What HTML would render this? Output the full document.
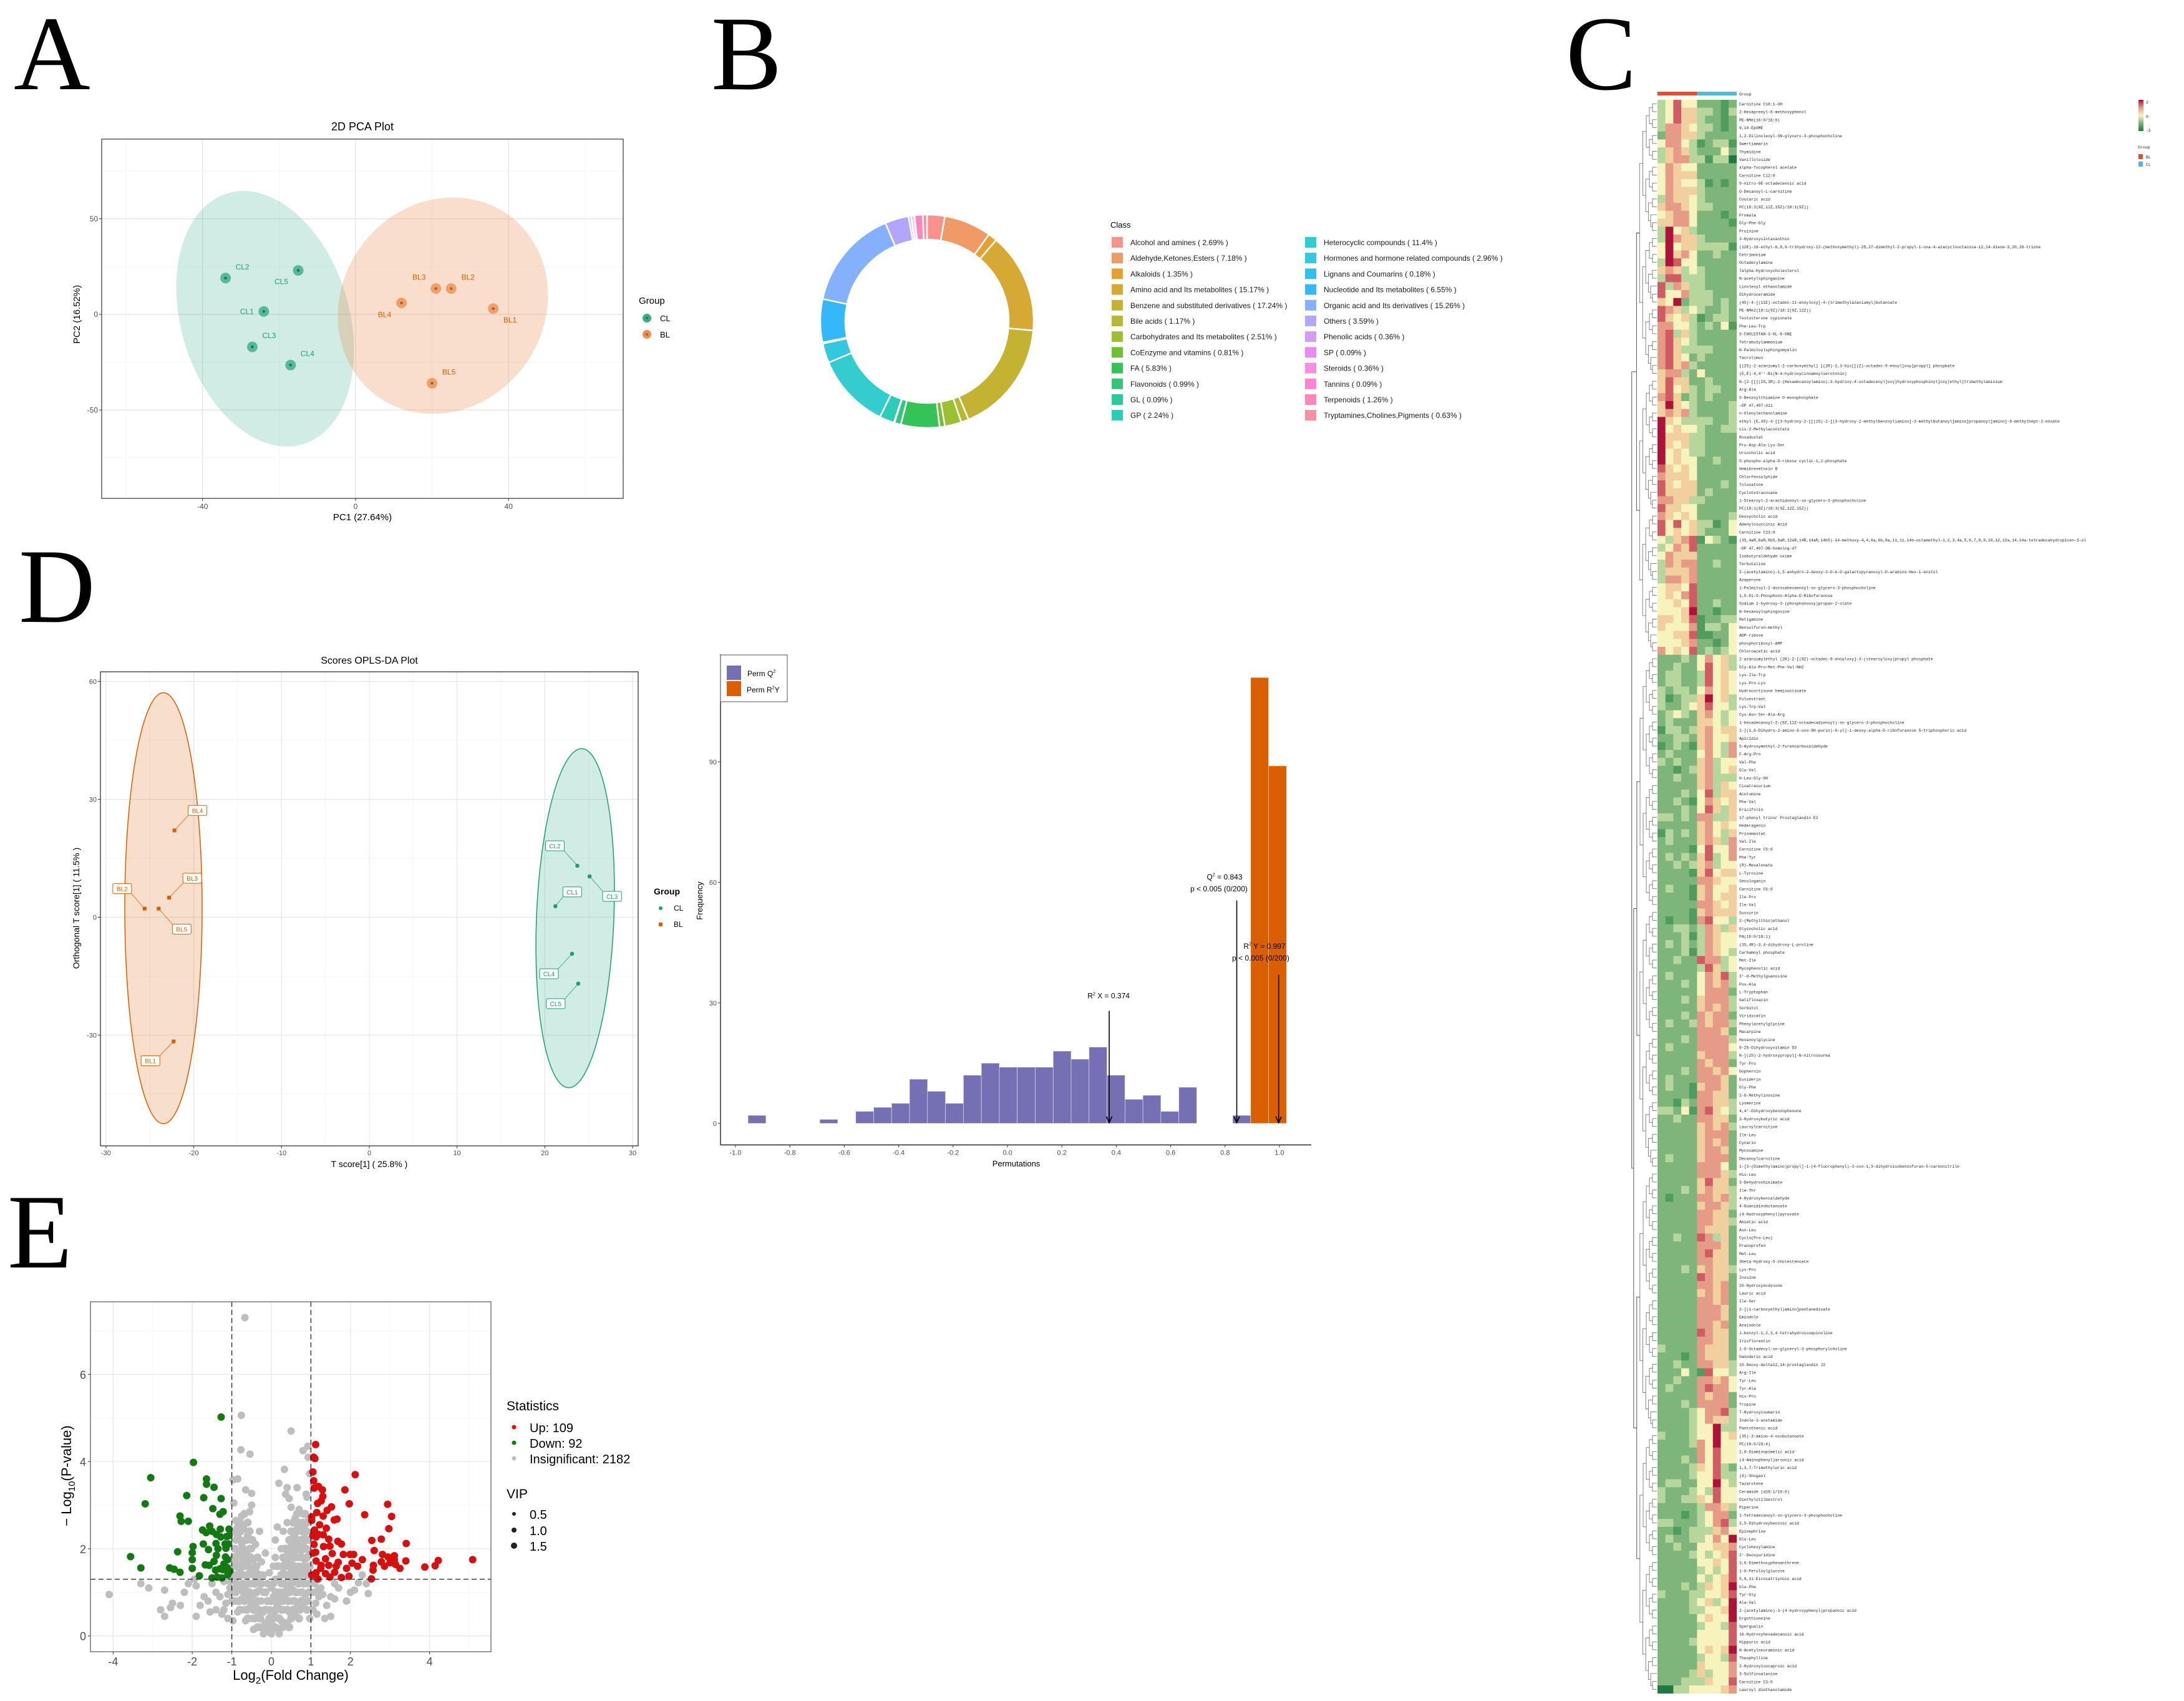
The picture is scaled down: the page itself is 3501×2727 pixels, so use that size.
<!DOCTYPE html>
<html><head><meta charset="utf-8"><title>Metabolomics figure</title>
<style>
html,body{margin:0;padding:0;background:#fff;}
svg{display:block;font-family:"Liberation Sans",sans-serif;}
</style></head>
<body>
<svg id="fig" xmlns="http://www.w3.org/2000/svg" width="3501" height="2727" viewBox="0 0 3501 2727">
<rect x="0" y="0" width="3501" height="2727" fill="#fff"/>
<g font-family="Liberation Serif, serif" font-size="170" fill="#000">
<text x="22" y="143">A</text>
<text x="1140" y="143">B</text>
<text x="2510" y="143">C</text>
<text x="30" y="997">D</text>
<text x="12" y="2032">E</text>
</g>
<g id="pA"></g>
<g id="pB"></g>
<g id="pC"></g>
<g id="pD"></g>
<g id="pP"></g>
<g id="pE"></g>
</svg>
<script>
// ================= DATA =================
// PCA
const pcaSamples = ['CL1','CL2','CL3','CL4','CL5','BL1','BL2','BL3','BL4','BL5'];
const pcaPC1 = [-24, -34, -27, -17, -15, 36, 25, 21, 12, 20];
const pcaPC2 = [1.5, 19, -17, -26.5, 23, 3, 13.5, 13.5, 6, -36];
const pcaXTicks = [-40, 0, 40];
const pcaYTicks = [-50, 0, 50];
// Class donut
const classNames = ['Alcohol and amines','Aldehyde,Ketones,Esters','Alkaloids','Amino acid and Its metabolites','Benzene and substituted derivatives','Bile acids','Carbohydrates and Its metabolites','CoEnzyme and vitamins','FA','Flavonoids','GL','GP','Heterocyclic compounds','Hormones and hormone related compounds','Lignans and Coumarins','Nucleotide and Its metabolites','Organic acid and Its derivatives','Others','Phenolic acids','SP','Steroids','Tannins','Terpenoids','Tryptamines,Cholines,Pigments'];
const classPct = [2.69,7.18,1.35,15.17,17.24,1.17,2.51,0.81,5.83,0.99,0.09,2.24,11.4,2.96,0.18,6.55,15.26,3.59,0.36,0.09,0.36,0.09,1.26,0.63];
const classColors = ['#f8928a','#f09a66','#e5a12f','#d6a834','#c4b232','#b5b934','#9cbf34','#6fc22f','#35c358','#30c77d','#2ec99a','#2ccdb8','#33cccf','#33c8e0','#2fc0f0','#35b8fa','#84b0fc','#b3a6fa','#d59cf7','#ea8cee','#f88de1','#fc84d2','#fb86bd','#f890a4'];
// OPLS-DA
const oplsSamples = ['BL1','BL2','BL3','BL4','BL5','CL1','CL2','CL3','CL4','CL5'];
const oplsT = [-22.3,-25.6,-22.8,-22.2,-24.0,21.2,23.7,25.1,23.1,23.8];
const oplsO = [-31.6,2.2,5.0,22.1,2.2,2.8,13.1,10.4,-9.3,-16.9];
const oplsXTicks = [-30,-20,-10,0,10,20,30];
const oplsYTicks = [-30,0,30,60];
// Permutation histogram
const permBinWidth = 0.066;
const q2BinLeft = [-0.954,-0.690,-0.558,-0.492,-0.426,-0.360,-0.294,-0.228,-0.162,-0.096,-0.030,0.036,0.102,0.168,0.234,0.300,0.366,0.432,0.498,0.564,0.630,0.828];
const q2Counts = [2,1,3,4,5,11,8,5,12,15,14,14,14,18,16,19,12,6,7,3,9,2];
const r2yBinLeft = [0.894,0.960];
const r2yCounts = [111,89];
const permXTicks = [-1.0,-0.8,-0.6,-0.4,-0.2,0.0,0.2,0.4,0.6,0.8,1.0];
const permYTicks = [0,30,60,90];
const statR2X = 0.374, statQ2 = 0.843, statR2Y = 0.997;
const arrowTopR2X = 28, arrowTopQ2 = 55.5, arrowTopR2Y = 37;
// Volcano
const volcXTicks = [-4,-2,-1,0,1,2,4];
const volcYTicks = [0,2,4,6];
const downPts = [[-1.27,5.02],[-1.97,3.98],[-3.05,3.63],[-3.19,3.03],[-2.14,3.22],[-1.64,3.6],[-1.64,3.48],[-1.45,3.41],[-1.71,3.17],[-1.27,3.15],[-1.48,2.92],[-1.22,2.85],[-1.3,2.79],[-2.31,2.75],[-2.28,2.63],[-2.1,2.63],[-1.56,2.52],[-1.74,2.43],[-1.65,2.37],[-1.5,2.4],[-1.39,2.33],[-1.29,2.45],[-1.07,2.45],[-1.13,2.28],[-1.28,2.27],[-1.07,2.3],[-1.98,2.05],[-1.72,2.11],[-1.4,2.12],[-1.17,2.11],[-1.08,2.11],[-1.59,1.98],[-2.0,1.91],[-2.37,1.93],[-1.15,2.01],[-3.56,1.82],[-2.0,1.75],[-1.45,1.71],[-1.16,1.81],[-1.1,1.75],[-1.39,1.85],[-3.3,1.56],[-2.57,1.56],[-2.46,1.53],[-2.31,1.46],[-2.0,1.55],[-1.67,1.63],[-1.57,1.62],[-1.41,1.51],[-1.3,1.54],[-1.22,1.52],[-1.12,1.57],[-1.05,1.49],[-1.82,1.38],[-1.37,1.35],[-1.25,1.33],[-1.5,1.33],[-1.2,1.65],[-1.35,2.0],[-1.1,1.4]];
const upPts = [[1.12,4.39],[1.07,4.1],[1.1,4.07],[1.05,3.76],[2.12,3.7],[1.07,3.56],[1.19,3.43],[1.08,3.39],[1.29,3.35],[1.86,3.35],[1.3,3.2],[1.26,3.1],[1.17,3.04],[1.97,3.03],[2.94,3.02],[1.52,2.96],[1.41,2.88],[1.15,2.83],[1.02,2.73],[2.36,2.78],[3.04,2.74],[1.31,2.75],[1.66,2.68],[1.59,2.66],[1.02,2.65],[1.39,2.47],[2.97,2.46],[1.09,2.43],[1.19,2.33],[1.31,2.32],[1.13,2.27],[1.45,2.22],[2.78,2.22],[2.54,2.19],[1.68,2.17],[1.77,2.11],[3.41,2.12],[1.08,2.1],[1.32,2.05],[1.48,2.06],[2.6,1.96],[1.12,1.92],[1.54,1.89],[1.82,1.87],[1.99,1.87],[2.08,1.87],[2.81,1.87],[3.11,1.84],[2.95,1.81],[2.3,1.75],[1.37,1.77],[1.13,1.72],[1.69,1.69],[2.04,1.67],[2.78,1.7],[3.0,1.68],[3.11,1.75],[3.4,1.72],[4.22,1.73],[5.09,1.75],[1.26,1.62],[1.64,1.6],[2.18,1.6],[2.58,1.62],[2.86,1.6],[3.14,1.64],[3.88,1.58],[4.14,1.61],[3.25,1.55],[1.13,1.45],[1.37,1.43],[1.6,1.46],[2.57,1.51],[1.77,1.34],[1.96,1.37],[2.53,1.31],[1.17,1.31],[1.02,1.4],[1.48,1.35],[1.25,1.55],[1.05,1.9],[1.22,2.55],[1.45,1.62],[1.9,1.55],[1.05,2.3]];
const greyPts = [[-0.67,7.3],[-0.76,5.06],[0.5,4.7],[-0.77,4.27],[-0.54,4.17],[0.92,4.35],[0.8,4.25],[0.93,4.1],[0.33,3.82],[0.97,3.72],[-0.85,3.6],[-0.97,3.58],[0.19,3.5],[0.4,3.4],[0.65,3.4],[-0.65,3.35],[-0.5,3.27],[0.36,3.25],[0.88,3.25],[0.45,3.15],[0.9,3.18],[-0.95,3.05],[-0.5,3.0],[0.5,2.95],[0.7,2.9],[-0.55,2.85],[0.8,2.8],[-0.75,2.75],[0.6,2.7],[-0.9,2.65],[0.4,2.6],[0.15,2.5],[-0.7,2.55],[-0.3,2.4],[0.3,2.4],[0.9,2.4],[-0.85,2.3],[-0.6,2.3],[0.1,2.2],[0.55,2.25],[0.8,2.1],[-0.4,2.1],[-0.15,1.9],[0.25,2.0],[0.6,1.95],[-0.8,1.95],[-0.6,1.85],[0.45,1.8],[0.95,1.85],[-0.9,1.75],[-0.25,1.7],[0.05,1.6],[0.3,1.6],[0.7,1.6],[-0.5,1.55],[-0.8,1.5],[0.5,1.45],[0.85,1.4],[-0.2,1.4],[0.1,1.3],
[0.7,2.6],[0.75,2.5],[0.65,2.45],[0.85,2.55],[0.95,2.7],[0.6,2.35],[0.7,2.2],[0.85,2.25],[0.5,2.1],[0.65,2.05],[0.75,1.95],[0.9,2.0],[0.4,1.95],[0.55,1.85],[0.7,1.8],[0.85,1.75],[0.35,1.7],[0.5,1.65],[0.62,1.55],[0.78,1.5],[0.92,1.55],[0.3,1.45],[0.42,1.35],[0.6,1.3],[0.75,1.25],[0.9,1.2],[0.25,1.2],[0.4,1.1],[0.55,1.05],[0.7,1.0],[0.85,0.95],[0.2,0.95],[0.35,0.85],[0.5,0.8],[0.65,0.75],[0.8,0.7],[0.15,0.7],[0.3,0.6],[0.45,0.55],[0.6,0.5],[0.1,0.45],[0.25,0.35],[0.4,0.3],[0.05,0.2],[0.15,0.15],[0.0,0.05],[0.2,0.05],
[-0.7,2.45],[-0.85,2.5],[-0.6,2.2],[-0.75,2.1],[-0.9,2.2],[-0.5,2.0],[-0.65,1.95],[-0.85,1.85],[-0.45,1.75],[-0.6,1.7],[-0.75,1.65],[-0.95,1.6],[-0.4,1.5],[-0.55,1.45],[-0.7,1.4],[-0.9,1.35],[-0.35,1.3],[-0.5,1.2],[-0.65,1.15],[-0.8,1.1],[-0.95,1.05],[-0.3,1.05],[-0.45,0.95],[-0.6,0.9],[-0.75,0.85],[-0.9,0.8],[-0.25,0.8],[-0.4,0.7],[-0.55,0.65],[-0.7,0.6],[-0.85,0.55],[-0.2,0.55],[-0.35,0.45],[-0.5,0.4],[-0.65,0.35],[-0.15,0.3],[-0.3,0.2],[-0.45,0.15],[-0.1,0.1],[-0.2,0.05],
[0.0,0.5],[0.1,0.9],[-0.1,0.8],[0.0,1.1],[0.15,1.3],[-0.1,1.2],[0.0,0.3],[-0.05,0.6],[0.05,0.9],[0.2,1.6],[0.1,1.8],[-0.05,1.45],[0.3,1.0],[-0.3,0.6],[0.35,0.3],[-0.2,1.0],
[-4.1,0.95],[-3.3,1.2],[-3.1,1.1],[-2.7,1.05],[-2.8,0.6],[-2.7,0.45],[-2.5,0.75],[-2.55,0.65],[-2.3,0.7],[-2.2,1.0],[-2.1,1.2],[-1.95,1.3],[-1.9,1.15],[-1.9,0.45],[-1.7,0.9],[-1.6,0.8],[-1.5,1.2],[-1.4,1.0],[-1.4,0.6],[-1.3,0.9],[-1.2,1.25],[-1.1,0.4],[-1.0,0.8],[-1.55,0.55],[-1.25,0.5],[-1.8,0.7],[-1.15,0.75],[-1.05,1.1],
[1.1,1.2],[1.2,0.9],[1.3,0.95],[1.4,0.7],[1.5,0.9],[1.5,0.45],[1.6,0.85],[1.7,1.1],[1.9,0.8],[2.0,1.0],[2.1,1.05],[2.2,1.22],[2.45,0.97],[2.3,1.4],[2.4,1.2],[1.2,1.3],[1.05,0.6],[1.15,0.5],[1.35,0.4],[1.25,1.1],[1.05,1.0],[1.6,1.2],
[-1.05,1.25],[-1.1,0.95],[-1.2,0.6],[1.08,1.28],[1.12,0.75],[1.18,1.05],[-0.97,0.35],[0.97,0.4]];
// dense core of insignificant metabolites, listed per -log10(p) level
const greyCoreY = [0.2,0.4,0.6,0.8,1.0,1.2,1.4,1.6,1.8,2.0,2.2,2.4,2.6,2.8];
const greyCoreX = [
 [-0.35,-0.25,-0.12,0.1,0.28,0.45],
 [-0.6,-0.42,-0.28,-0.05,0.05,0.2,0.5,0.7],
 [-0.8,-0.62,-0.45,-0.15,0.1,0.25,0.4,0.55,0.72,0.9],
 [-0.95,-0.82,-0.68,-0.52,-0.35,-0.1,0.0,0.15,0.28,0.42,0.58,0.75,0.92],
 [-0.9,-0.7,-0.55,-0.38,-0.15,0.12,0.22,0.45,0.62,0.78,0.95],
 [-0.88,-0.72,-0.58,-0.42,-0.25,0.05,0.32,0.5,0.68,0.82,0.97],
 [-0.92,-0.78,-0.6,-0.45,-0.3,0.25,0.38,0.55,0.7,0.92],
 [-0.88,-0.68,-0.55,-0.38,0.15,0.42,0.58,0.82,0.97],
 [-0.95,-0.72,-0.52,-0.35,0.3,0.6,0.78,0.9],
 [-0.92,-0.72,-0.55,0.35,0.45,0.72,0.85],
 [-0.8,-0.65,-0.48,0.45,0.62,0.75,0.95],
 [-0.95,-0.78,-0.55,0.5,0.65,0.78],
 [-0.8,-0.6,0.55,0.8,0.9],
 [-0.68,0.65,0.85]];
// Heatmap (0 = -2 dark green ... 4 = 0 ... 8 = +2 dark red), columns BL1-5, CL1-5
const heatCols = ['BL1','BL2','BL3','BL4','BL5','CL1','CL2','CL3','CL4','CL5'];
const heatRows = ["3474422212","3475533213","3475532212","3665433212","2665532222","4664312331","3565322242","3566331330","4654422222","4655522222","4654431212","4655532222","3655432222","5665433222","4566422212","5566422221","3845322222","3865532222","4845533331","4856422322","3874422222","5653432222","3773332222","7365332222","7446333222","5482333232","7653432232","7545312332","6644323241","6735322222","6754322222","6753333222","6754232222","6756322222","5663242222","5755223222","5745323322","6752323222","5854322223","5656322223","8543333223","8454432233","8555332222","8545332222","8454332222","8454422322","7545422222","6555422222","7545522232","7555523222","6655332222","7554422222","6545422223","7474533124","7454532224","4356714321","3465722222","4655522222","3656622322","3555622222","3665622222","4554722222","4546722222","4454722322","4445822122","5545712233","5444613324","4455711224","4445622124","6454723234",
"2223246453","2232247453","2332237454","2332237454","3233246454","3123358453","3223457443","2343256434","2322255434","1332356455","2233256445","1232156436","2322246436","3232256344","2212356345","2232256333","2222256354","2223247355","2232146545","2223247535","3323266335","2222256454","1323256435","2322256536","2222147446","2323257346","2232356344","2222157455","2222266544","2322156445","2222156455","2222266545","2222156555","2122167443","2233236535","2223136544","2323236544","2223136543","2232276634","2222237534","2322246573","2223246563","2222246662","2223256663","2222256563","2223265662","2322365663","2222266652","2223266663","2322266664","2222256663","2222265662","2223266564","2322266652","2322156652","2222166552","2213266553","3324167543","2232266552","2222256563","2222256662","2222256562","2222256652","2322256662","2222266642","2222266653","2222257552","2223256553","2122266563","2222256653","2222266552","2222266553","2222265552","2232276352","2222266652","2222267552","2222266552","2223256553","2222276552","2222266562","2222256562","2222266562","2222266652","2222266652","2222266562","2222276552","2222266552","3222265552","2221265552","2232266553","2224217443","2232266564","2322267664","2222265662","2223266662","2222346673","2222346553","2222344833","3222344845","2222364844","2222264744","2223264744","2222354732","2222344733","2332244843","3222343744","3223354744","2222236653","2221234662","3322234673","2212333564","2322334648","2232244556","2222343457","2222244547","2222234347","2222243457","2223235458","3222334457","2222345348","2222334458","2222245448","2222234437","2222244447","2222344447","2222245458","2222234437","2222254446","2222353446","2223335447","0033444456"];
const heatLabels = ["Carnitine C18:1-OH","2-Hexaprenyl-6-methoxyphenol","PE-NMe(16:0/16:0)","9,10-EpOME","1,2-Dilinoleoyl-SN-glycero-3-phosphocholine","Swertiamarin","Thymidine","Vanilloloside","alpha-Tocopherol acetate","Carnitine C12:0","9-nitro-9E-octadecenoic acid","O-Decanoyl-L-carnitine","Coutaric acid","PC(18:3(9Z,12Z,15Z)/18:1(9Z))","Promala","Gly-Phe-Gly","Pruinine","3-Hydroxysintaxanthin","(12E)-16-ethyl-6,8,9-trihydroxy-12-(methoxymethyl)-25,27-dimethyl-2-propyl-1-oxa-4-azacyclooctacosa-12,14-diene-3,20,28-trione","Cetrimonium","Octadecylamine","7alpha-Hydroxycholesterol","N-acetylsphinganine","Linoleoyl ethanolamide","Dihydroceramide","(4S)-4-[(11E)-octadec-11-enoyloxy]-4-(trimethylazaniumyl)butanoate","PE-NMe2(18:1(9Z)/18:2(9Z,12Z))","Testosterone cypionate","Phe-Leu-Trp","5-CHOLESTAN-3-OL-6-ONE","Tetrabutylammonium","N-Palmitoylsphingomyelin","Tacrolimus","[(2S)-2-azaniumyl-2-carboxyethyl] [(2R)-2,3-bis[[(Z)-octadec-9-enoyl]oxy]propyl] phosphate","(E,E)-4,4''-Bi(N-4-hydroxycinnamoylserotonin)","N-[2-[[[(2S,3R)-2-(Hexadecanoylamino)-3-hydroxy-4-octadecenyl]oxy]hydroxyphosphinyl]oxy]ethyl]trimethylaminium","Arg-Ala","S-Benzoylthiamine O-monophosphate","-DP 47,497-d11","n-Oleoylethanolamine","ethyl (E,4S)-4-[[3-hydroxy-2-[[(2S)-2-[(3-hydroxy-2-methylbenzoyl)amino]-3-methylbutanoyl]amino]propanoyl]amino]-6-methylhept-2-enoate","cis-2-Methylaconitate","Roxadustat",
"Pro-Asp-Ala-Lys-Ser","Ursocholic acid","5-phospho-alpha-D-ribose cyclic-1,2-phosphate","Hemibrevetoxin B","Chlorfensulphide","Toloxatone","Cyclotetracosane","1-Stearoyl-2-arachidonoyl-sn-glycero-3-phosphocholine","PC(18:1(9Z)/18:3(9Z,12Z,15Z))","Deoxycholic acid","Adenylosuccinic Acid","Carnitine C13:0","(3S,4aR,6aR,6bS,8aR,12aR,14R,14aR,14bS)-14-methoxy-4,4,6a,6b,8a,11,11,14b-octamethyl-1,2,3,4a,5,6,7,8,9,10,12,12a,14,14a-tetradecahydropicen-3-ol","-DP 47,497-DB-homolog-d7","Isobutyraldehyde oxime","Terbutaline","2-(acetylamino)-1,5-anhydro-2-deoxy-3-O-b-D-galactopyranosyl-D-arabino-Hex-1-enitol","Azaperone","1-Palmitoyl-2-docosahexaenoyl-sn-glycero-3-phosphocholine","1,5-Di-O-Phosphono-Alpha-D-Ribofuranose","Sodium 1-hydroxy-3-(phosphonooxy)propan-2-olate","N-hexanoylsphingosine","Retigabine","Bensulfuron-methyl","ADP-ribose","phosphoribosyl-AMP","Chloroacetic acid","2-azaniumylethyl (2R)-2-[(9Z)-octadec-9-enoyloxy]-3-(stearoyloxy)propyl phosphate","Gly-Ala-Pro-Met-Phe-Val-NH2","Lys-Ile-Trp","Lys-Pro-Lys","Hydrocortisone hemisuccinate","Fulvestrant","Lys-Trp-Val","Cys-Asn-Ser-Ala-Arg","1-hexadecanoyl-2-(9Z,12Z-octadecadienoyl)-sn-glycero-3-phosphocholine","1-[(1,6-Dihydro-2-amino-6-oxo-9H-purin)-9-yl]-1-deoxy-alpha-D-ribofuranose 5-triphosphoric acid","Apicidin","5-Hydroxymethyl-2-furancarboxaldehyde",
"F-Arg-Pro","Val-Phe","Glu-Val","H-Leu-Gly-OH","Cisatracurium","Acutumine","Phe-Val","Ericifolin","17-phenyl trinor Prostaglandin E2","Hederagenin","Prinomastat","Val-Ile","Carnitine C5:0","Phe-Tyr","(R)-Mevalonate","L-Tyrosine","Secologanin","Carnitine C6:0","Ile-Pro","Ile-Val","Sussurin","2-(Methylthio)ethanol","Glycocholic acid","PA(16:0/18:1)","(3S,4R)-3,4-dihydroxy-L-proline","Carbamoyl phosphate","Met-Ile","Mycophenolic acid","3'-O-Methylguanosine","Pov-Ala","L-Tryptophan","Gatifloxacin","Sorbitol","Viridicatin","Phenylacetylglycine","Macarpine","Hexanoylglycine","6-25-Dihydroxyvitamin D3","N-[(2S)-2-hydroxypropyl]-N-nitrosourea","Tyr-Pro","Gophernin","Eusiderin","Gly-Phe","2-O-Methylinosine","Lysmerine","4,4'-Dihydroxybenzophenone","3-Hydroxybutyric acid","Lauroylcarnitine","Ile-Leu","Cynarin","Mycosamine","Decanoylcarnitine","1-[3-(Dimethylamino)propyl]-1-(4-fluorophenyl)-3-oxo-1,3-dihydroisobenzofuran-5-carbonitrile","His-Leu","3-Dehydroshikimate","Ile-Thr","4-Hydroxybenzaldehyde","4-Guanidinobutanoate","(4-Hydroxyphenyl)pyruvate","Abietic acid","Asn-Leu","Cyclo(Pro-Leu)","Pranoprofen","Met-Leu","3beta-Hydroxy-5-cholestenoate","Lys-Pro","Inosine","20-Hydroxyecdysone","Lauric acid","Ile-Ser","2-[(1-carboxyethyl)amino]pentanedioate","Emindole","Azaindole","1-benzyl-1,2,3,4-tetrahydroisoquinoline","Irisflorentin","1-O-Octadecyl-sn-glyceryl-3-phosphorylcholine","Ganoderic acid","15-Deoxy-delta12,14-prostaglandin J2","Arg-Ile","Tyr-Leu","Tyr-Ala","His-Pro","Tropine","7-Hydroxycoumarin","Indole-3-acetamide","Pantothenic acid","(3S)-3-amino-4-oxobutanoate","PC(18:0/20:4)","2,6-Diaminopimelic acid","(4-Aminophenyl)arsonic acid","1,3,7-Trimethyluric acid","(8)-Shogaol","Tazarotene","Ceramide (d18:1/16:0)","Diethylstilbestrol","Piperine","1-Tetradecanoyl-sn-glycero-3-phosphocholine","2,5-Dihydroxybenzoic acid","Epinephrine","Glu-Leu","Cyclohexylamine","2'-Deoxyuridine","3,6-Dimethoxyphenanthrene","1-O-Feruloylglucose","5,8,11-Eicosatriynoic acid","Glu-Phe","Tyr-Gly","Ala-Val","2-(acetylamino)-3-(4-hydroxyphenyl)propanoic acid","Ergothioneine","Spergualin","16-Hydroxyhexadecanoic acid","Hippuric acid","N-Acetylneuraminic acid","Theophylline","2-Hydroxyisocaproic acid","3-Sulfinoalanine","Carnitine C3:0","Lauroyl diethanolamide","1,1-Dimethylbiguanide"];

// ================= HELPERS =================
const NS = 'http://www.w3.org/2000/svg';
function mk(tag, attrs, parent) {
  const e = document.createElementNS(NS, tag);
  for (const k in attrs) e.setAttribute(k, attrs[k]);
  parent.appendChild(e);
  return e;
}
function tx(str, attrs, parent) {
  const e = mk('text', attrs, parent);
  e.textContent = str;
  return e;
}
function sup(parentText, base, s, after, fs) {
  const a = document.createElementNS(NS, 'tspan'); a.textContent = base; parentText.appendChild(a);
  const b = document.createElementNS(NS, 'tspan'); b.textContent = s; b.setAttribute('dy', -fs*0.45); b.setAttribute('font-size', fs*0.6); parentText.appendChild(b);
  const c = document.createElementNS(NS, 'tspan'); c.textContent = after; c.setAttribute('dy', fs*0.45); parentText.appendChild(c);
}
let el;

// ================= PANEL A: PCA =================
(function(){
  const g = document.getElementById('pA');
  const L=163,R=999,T=223,B=799;
  const xA = v => 570 + v*6.13;
  const yA = v => 504 - v*3.065;
  el = mk('rect',{x:L,y:T,width:R-L,height:B-T,fill:'#fff'},g);
  
  
  [-60,-20,20,60].forEach(v=>{ el = mk('line',{x1:xA(v),x2:xA(v),y1:T,y2:B,stroke:'#f2f2f2','stroke-width':0.8},g);
    
     });
  [-75,-25,25,75].forEach(v=>{ el = mk('line',{x1:L,x2:R,y1:yA(v),y2:yA(v),stroke:'#f2f2f2','stroke-width':0.8},g);
    
     });
  pcaXTicks.forEach(v=>{ el = mk('line',{x1:xA(v),x2:xA(v),y1:T,y2:B,stroke:'#e6e6e6','stroke-width':1.4},g);
    
    
    el = mk('line',{x1:xA(v),x2:xA(v),y1:B,y2:B+4,stroke:'#333'},g);
    
    
    el = tx(String(v),{x:xA(v),y:B+17,'font-size':12,'text-anchor':'middle',fill:'#4d4d4d'},g);
    
     });
  pcaYTicks.forEach(v=>{ el = mk('line',{x1:L,x2:R,y1:yA(v),y2:yA(v),stroke:'#e6e6e6','stroke-width':1.4},g);
    
    
    el = mk('line',{x1:L-4,x2:L,y1:yA(v),y2:yA(v),stroke:'#333'},g);
    
    
    el = tx(String(v),{x:L-6,y:yA(v)+4,'font-size':12,'text-anchor':'end',fill:'#4d4d4d'},g);
    
     });
  el = mk('ellipse',{cx:425,cy:511,rx:134.7,ry:210,transform:'rotate(-16.7 425 511)',fill:'#1b9e77','fill-opacity':0.2},g);
  
  
  el = mk('ellipse',{cx:710,cy:490,rx:162.2,ry:179.4,transform:'rotate(36.5 710 490)',fill:'#e8884a','fill-opacity':0.28},g);
  
  
  const ldx = {CL1:-27,CL2:27,CL3:27,CL4:27,CL5:-27,BL1:27,BL2:27,BL3:-27,BL4:-27,BL5:27};
  const ldy = {CL1:0,CL2:-18,CL3:-18,CL4:-18,CL5:18,BL1:18,BL2:-18,BL3:-18,BL4:19,BL5:-18};
  pcaSamples.forEach((s,i)=>{
    const cl = s.startsWith('CL');
    const c1 = cl ? '#3aad87' : '#eb9155';
    const c2 = cl ? '#0e7f5c' : '#c8560c';
    const px = xA(pcaPC1[i]), py = yA(pcaPC2[i]);
    el = mk('circle',{cx:px,cy:py,r:8.5,fill:c1,'fill-opacity':0.8},g);
    
    
    el = mk('circle',{cx:px,cy:py,r:2.3,fill:c2},g);
    
    
    el = tx(s,{x:px+ldx[s],y:py+ldy[s]+4,'font-size':12,'text-anchor':'middle',fill:cl?'#1b9e77':'#d95f02'},g);
    
    
  });
  el = mk('rect',{x:L,y:T,width:R-L,height:B-T,fill:'none',stroke:'#333','stroke-width':1.2},g);
  
  
  el = tx('2D PCA Plot',{x:581,y:209,'font-size':18,'text-anchor':'middle',fill:'#000'},g);
  
  
  el = tx('PC1 (27.64%)',{x:581,y:834,'font-size':15,'text-anchor':'middle',fill:'#000'},g);
  
  
  el = tx('PC2 (16.52%)',{x:0,y:0,'font-size':15,'text-anchor':'middle',fill:'#000',transform:'translate(128 504) rotate(-90)'},g);
  
  
  el = tx('Group',{x:1024,y:487,'font-size':15,fill:'#000'},g);
  
  
  [['CL','#3aad87','#0e7f5c',510],['BL','#eb9155','#c8560c',536]].forEach(d=>{
    el = mk('circle',{cx:1037,cy:d[3],r:7,fill:d[1]},g);
    
    
    el = mk('circle',{cx:1037,cy:d[3],r:2,fill:d[2]},g);
    
    
    el = tx(d[0],{x:1058,y:d[3]+5,'font-size':13,fill:'#000'},g);
    
    
  });
})();

// ================= PANEL B: DONUT =================
(function(){
  const g = document.getElementById('pB');
  const cx=1486, cy=515, R0=171, R1=131;
  const total = classPct.reduce((a,b)=>a+b,0);
  let acc = 0;
  classPct.forEach((p,i)=>{
    const a0 = acc/total*2*Math.PI, a1 = (acc+p)/total*2*Math.PI; acc += p;
    const pt = (r,a)=>[cx+r*Math.sin(a), cy-r*Math.cos(a)];
    const large = (a1-a0)>Math.PI?1:0;
    const p0=pt(R0,a0),p1=pt(R0,a1),p2=pt(R1,a1),p3=pt(R1,a0);
    const d = `M${p0[0]},${p0[1]} A${R0},${R0} 0 ${large} 1 ${p1[0]},${p1[1]} L${p2[0]},${p2[1]} A${R1},${R1} 0 ${large} 0 ${p3[0]},${p3[1]} Z`;
    el = mk('path',{d:d,fill:classColors[i],stroke:'#fff','stroke-width':2.5},g);
    
    
  });
  el = tx('Class',{x:1780,y:365,'font-size':13,fill:'#000'},g);
  
  
  classNames.forEach((n,i)=>{
    const col = i<12?0:1, row = i%12;
    const kx = col?2092:1782, ty = 380 + row*25.2;
    el = mk('rect',{x:kx,y:ty,width:18,height:17,fill:classColors[i]},g);
    
    
    el = tx(n+' ( '+classPct[i]+'% )',{x:kx+30,y:ty+13,'font-size':12,fill:'#1a1a1a'},g);
    
    
  });
})();

// ================= PANEL C: HEATMAP =================
(function(){
  const g = document.getElementById('pC');
  const X0=2657, CW=12.68, Y0=160, RH=12.71;
  const pal = ['#1f7a41','#4e9c5e','#7db57b','#b7d69d','#f7f3bf','#f1cf9f','#e59b86','#cf5b63','#ad1339'];
  heatCols.forEach((c,j)=>{
    el = mk('rect',{x:X0+j*CW,y:147,width:CW+0.3,height:6,fill:j<5?'#e64b35':'#4dbbd5'},g);
    
    
  });
  el = tx('Group',{x:2788,y:153,'font-size':6.5,'font-family':'Liberation Mono, monospace',fill:'#222'},g);
  
  
  heatRows.forEach((r,i)=>{
    for (let j=0;j<10;j++){
      el = mk('rect',{x:X0+j*CW,y:Y0+i*RH,width:CW+0.3,height:RH+0.3,fill:pal[+r[j]]},g);
      
      
    }
    if (heatLabels[i] !== undefined) {
      el = tx(heatLabels[i],{x:2788,y:Y0+i*RH+9,'font-size':6.4,'font-family':'Liberation Mono, monospace',fill:'#222'},g);
      
      
    }
  });
  function dend(lo,hi){
    const n = hi-lo;
    if (n===1) return {x:X0-1, y:Y0+(lo+0.5)*RH};
    let mid = (n===201)?70:lo+Math.floor(n/2);
    const a = dend(lo,mid), b = dend(mid,hi);
    const x = X0-1-(5*Math.log2(n)+2);
    el = mk('path',{d:`M${a.x},${a.y} H${x} V${b.y} H${b.x}`,fill:'none',stroke:n>60?'#444':'#777','stroke-width':0.9},g);
    
    
    return {x:x, y:(a.y+b.y)/2};
  }
  dend(0,heatRows.length);
  const gr = mk('linearGradient',{id:'hmgrad',x1:0,y1:0,x2:0,y2:1},g);
  ['#ad1339','#e59b86','#f7f3bf','#7db57b','#1f7a41'].forEach((c,i)=>{ mk('stop',{offset:i/4,'stop-color':c},gr); });
  el = mk('rect',{x:3428,y:160,width:8,height:50,fill:'url(#hmgrad)'},g);
  
  
  [['2',166],['0',189],['-2',211]].forEach(d=>{
    el = tx(d[0],{x:3440,y:d[1],'font-size':6.5,'font-family':'Liberation Mono, monospace',fill:'#222'},g);
    
    
  });
  el = tx('Group',{x:3427,y:238,'font-size':6.5,'font-family':'Liberation Mono, monospace',fill:'#222'},g);
  
  
  [['BL','#e64b35',247],['CL','#4dbbd5',259]].forEach(d=>{
    el = mk('rect',{x:3428,y:d[2],width:7,height:8,fill:d[1]},g);
    
    
    el = tx(d[0],{x:3440,y:d[2]+7,'font-size':6.5,'font-family':'Liberation Mono, monospace',fill:'#222'},g);
    
    
  });
})();

// ================= PANEL D: OPLS-DA =================
(function(){
  const g = document.getElementById('pD');
  const L=161,R=1023,T=1077,B=1837;
  const xD = v => 592 + v*14.07;
  const yD = v => 1470.5 - v*6.3;
  [-25,-15,-5,5,15,25].forEach(v=>{ el = mk('line',{x1:xD(v),x2:xD(v),y1:T,y2:B,stroke:'#f2f2f2','stroke-width':0.8},g);
    
     });
  [-45,-15,15,45].forEach(v=>{ el = mk('line',{x1:L,x2:R,y1:yD(v),y2:yD(v),stroke:'#f2f2f2','stroke-width':0.8},g);
    
     });
  oplsXTicks.forEach(v=>{ el = mk('line',{x1:xD(v),x2:xD(v),y1:T,y2:B,stroke:'#e8e8e8','stroke-width':1.3},g);
    
    
    el = mk('line',{x1:xD(v),x2:xD(v),y1:B,y2:B+4,stroke:'#333'},g);
    
    
    el = tx(String(v),{x:xD(v),y:B+15,'font-size':11,'text-anchor':'middle',fill:'#4d4d4d'},g);
    
     });
  oplsYTicks.forEach(v=>{ el = mk('line',{x1:L,x2:R,y1:yD(v),y2:yD(v),stroke:'#e8e8e8','stroke-width':1.3},g);
    
    
    el = mk('line',{x1:L-4,x2:L,y1:yD(v),y2:yD(v),stroke:'#333'},g);
    
    
    el = tx(String(v),{x:L-6,y:yD(v)+4,'font-size':11,'text-anchor':'end',fill:'#4d4d4d'},g);
    
     });
  el = mk('ellipse',{cx:262,cy:1456,rx:62,ry:345.5,fill:'#d95f02','fill-opacity':0.2,stroke:'#d95f02','stroke-width':1.5},g);
  
  
  el = mk('ellipse',{cx:922,cy:1472,rx:62,ry:272,transform:'rotate(2.3 922 1472)',fill:'#1b9e77','fill-opacity':0.2,stroke:'#1b9e77','stroke-width':1.5},g);
  
  
  const ox = {BL1:-37,BL2:-36,BL3:37,BL4:37,BL5:37,CL1:27,CL2:-36,CL3:36,CL4:-37,CL5:-36};
  const oy = {BL1:31,BL2:-32,BL3:-31,BL4:-32,BL5:33,CL1:-23,CL2:-32,CL3:32,CL4:32,CL5:32};
  oplsSamples.forEach((s,i)=>{
    const bl = s.startsWith('BL'); const c = bl?'#d95f02':'#1b9e77';
    const px = xD(oplsT[i]), py = yD(oplsO[i]);
    const lx = px+ox[s], ly = py+oy[s];
    el = mk('line',{x1:px,y1:py,x2:lx-Math.sign(ox[s])*14,y2:ly-Math.sign(oy[s])*7,stroke:c,'stroke-width':0.8},g);
    
    
    el = mk('rect',{x:lx-15,y:ly-8,width:30,height:16,rx:2,fill:'#fff',stroke:c,'stroke-width':1},g);
    
    
    el = tx(s,{x:lx,y:ly+4,'font-size':10,'text-anchor':'middle',fill:c},g);
    
    
    if (bl) el = mk('rect',{x:px-3,y:py-3,width:6,height:6,fill:c},g);
    else el = mk('circle',{cx:px,cy:py,r:3.3,fill:c},g);
    
    
  });
  el = mk('rect',{x:L,y:T,width:R-L,height:B-T,fill:'none',stroke:'#333','stroke-width':1.3},g);
  
  
  el = tx('Scores OPLS-DA Plot',{x:592,y:1064,'font-size':16,'text-anchor':'middle',fill:'#000'},g);
  
  
  el = tx('T score[1] ( 25.8% )',{x:592,y:1871,'font-size':14,'text-anchor':'middle',fill:'#000'},g);
  
  
  el = tx('Orthogonal T score[1] ( 11.5% )',{x:0,y:0,'font-size':14,'text-anchor':'middle',fill:'#000',transform:'translate(127 1456) rotate(-90)'},g);
  
  
  el = tx('Group',{x:1048,y:1434,'font-size':14,'font-weight':'bold',fill:'#000'},g);
  
  
  el = mk('circle',{cx:1059,cy:1456,r:3,fill:'#1b9e77'},g);
  
  
  el = tx('CL',{x:1080,y:1460,'font-size':12,fill:'#000'},g);
  
  
  el = mk('rect',{x:1056,y:1479,width:6,height:6,fill:'#d95f02'},g);
  
  
  el = tx('BL',{x:1080,y:1486,'font-size':12,fill:'#000'},g);
  
  
})();

// ================= PANEL D2: PERMUTATION =================
(function(){
  const g = document.getElementById('pP');
  const L=1155, B=1835.5, R=2102, T=1049;
  const xP = v => 1615 + v*436;
  const yP = v => 1801 - v*6.44;
  q2BinLeft.forEach((v,i)=>{
    el = mk('rect',{x:xP(v),y:yP(q2Counts[i]),width:permBinWidth*436,height:q2Counts[i]*6.44,fill:'#7570b3',stroke:'#fff','stroke-width':0.8,'stroke-opacity':0.6},g);
    
    
  });
  r2yBinLeft.forEach((v,i)=>{
    el = mk('rect',{x:xP(v),y:yP(r2yCounts[i]),width:permBinWidth*436,height:r2yCounts[i]*6.44,fill:'#d95f02',stroke:'#fff','stroke-width':0.8,'stroke-opacity':0.6},g);
    
    
  });
  el = mk('line',{x1:L,x2:R,y1:B,y2:B,stroke:'#000','stroke-width':1.2},g);
  
  
  el = mk('line',{x1:L,x2:L,y1:T,y2:B,stroke:'#000','stroke-width':1.2},g);
  
  
  permXTicks.forEach(v=>{
    el = mk('line',{x1:xP(v),x2:xP(v),y1:B,y2:B+4,stroke:'#333'},g);
    
    
    el = tx(v.toFixed(1),{x:xP(v),y:B+16,'font-size':11,'text-anchor':'middle',fill:'#4d4d4d'},g);
    
    
  });
  permYTicks.forEach(v=>{
    el = mk('line',{x1:L-4,x2:L,y1:yP(v),y2:yP(v),stroke:'#333'},g);
    
    
    el = tx(String(v),{x:L-6,y:yP(v)+4,'font-size':11,'text-anchor':'end',fill:'#4d4d4d'},g);
    
    
  });
  const defs = mk('defs',{},g);
  const mkr = mk('marker',{id:'arr',viewBox:'0 0 10 10',refX:9,refY:5,markerWidth:7,markerHeight:7,orient:'auto'},defs);
  mk('path',{d:'M0,1 L9,5 L0,9',fill:'none',stroke:'#000','stroke-width':1.5},mkr);
  [[statR2X,arrowTopR2X,'r2x'],[statQ2,arrowTopQ2,'q2'],[statR2Y,arrowTopR2Y,'r2y']].forEach(a=>{
    el = mk('line',{x1:xP(a[0]),x2:xP(a[0]),y1:yP(a[1]),y2:yP(0)-1,stroke:'#000','stroke-width':1.6,'marker-end':'url(#arr)'},g);
    
    
  });
  el = mk('text',{x:xP(statR2X)-1,y:yP(arrowTopR2X)-20,'font-size':12,'text-anchor':'middle',fill:'#000'},g);
  sup(el,'R','2',' X = '+statR2X,12);
  
  
  el = mk('text',{x:1963,y:1410,'font-size':12,'text-anchor':'middle',fill:'#000'},g);
  sup(el,'Q','2',' = '+statQ2,12);
  
  
  el = tx('p < 0.005 (0/200)',{x:1954,y:1429,'font-size':12,'text-anchor':'middle',fill:'#000'},g);
  
  
  el = mk('text',{x:2027,y:1521,'font-size':12,'text-anchor':'middle',fill:'#000'},g);
  sup(el,'R','2',' Y = '+statR2Y,12);
  
  
  el = tx('p < 0.005 (0/200)',{x:2021,y:1540,'font-size':12,'text-anchor':'middle',fill:'#000'},g);
  
  
  el = tx('Permutations',{x:1629,y:1870,'font-size':13,'text-anchor':'middle',fill:'#000'},g);
  
  
  el = tx('Frequency',{x:0,y:0,'font-size':13,'text-anchor':'middle',fill:'#000',transform:'translate(1126 1444) rotate(-90)'},g);
  
  
  el = mk('rect',{x:1155,y:1050,width:107,height:75,fill:'#fff',stroke:'#555','stroke-width':1},g);
  
  
  el = mk('rect',{x:1165,y:1067,width:23,height:23,fill:'#7570b3'},g);
  
  
  el = mk('text',{x:1198,y:1084,'font-size':12,fill:'#000'},g);
  sup(el,'Perm Q','2','',12);
  
  
  el = mk('rect',{x:1165,y:1092,width:23,height:24,fill:'#d95f02'},g);
  
  
  el = mk('text',{x:1197,y:1110,'font-size':12,fill:'#000'},g);
  sup(el,'Perm R','2','Y',12);
  
  
})();

// ================= PANEL E: VOLCANO =================
(function(){
  const g = document.getElementById('pE');
  const L=145,R=787,T=2087,B=2648;
  const xE = v => 435 + v*63.4;
  const yE = v => 2622.7 - v*69.9;
  el = mk('rect',{x:L,y:T,width:R-L,height:B-T,fill:'#fff'},g);
  
  
  [-3,-1,1,3,5].forEach(v=>{ el = mk('line',{x1:xE(v),x2:xE(v),y1:T,y2:B,stroke:'#f3f3f3','stroke-width':0.8},g);
    
     });
  [1,3,5,7].forEach(v=>{ el = mk('line',{x1:L,x2:R,y1:yE(v),y2:yE(v),stroke:'#f3f3f3','stroke-width':0.8},g);
    
     });
  [-4,-2,0,2,4].forEach(v=>{ el = mk('line',{x1:xE(v),x2:xE(v),y1:T,y2:B,stroke:'#e8e8e8','stroke-width':1.3},g);
    
     });
  volcYTicks.forEach(v=>{ el = mk('line',{x1:L,x2:R,y1:yE(v),y2:yE(v),stroke:'#e8e8e8','stroke-width':1.3},g);
    
    
    el = mk('line',{x1:L-4,x2:L,y1:yE(v),y2:yE(v),stroke:'#333'},g);
    
    
    el = tx(String(v),{x:L-7,y:yE(v)+7,'font-size':18,'text-anchor':'end',fill:'#4d4d4d'},g);
    
     });
  volcXTicks.forEach(v=>{
    el = mk('line',{x1:xE(v),x2:xE(v),y1:B,y2:B+4,stroke:'#333'},g);
    
    
    el = tx(String(v),{x:xE(v),y:B+22,'font-size':18,'text-anchor':'middle',fill:'#4d4d4d'},g);
    
    
  });
  greyCoreY.forEach((yv,k)=>{
    greyCoreX[k].forEach(xv=>{
      el = mk('circle',{cx:xE(xv),cy:yE(yv),r:6.5,fill:'#bebebe'},g);
      
      
    });
  });
  greyPts.forEach(p=>{
    el = mk('circle',{cx:xE(p[0]),cy:yE(p[1]),r:6,fill:'#bebebe'},g);
    
    
  });
  downPts.forEach(p=>{
    el = mk('circle',{cx:xE(p[0]),cy:yE(p[1]),r:6,fill:'#137a13'},g);
    
    
  });
  upPts.forEach(p=>{
    el = mk('circle',{cx:xE(p[0]),cy:yE(p[1]),r:6,fill:'#d70f0f'},g);
    
    
  });
  [-1,1].forEach(v=>{
    el = mk('line',{x1:xE(v),x2:xE(v),y1:T,y2:B,stroke:'#222','stroke-width':1.3,'stroke-dasharray':'8,5'},g);
    
    
  });
  el = mk('line',{x1:L,x2:R,y1:yE(-Math.log10(0.05)),y2:yE(-Math.log10(0.05)),stroke:'#222','stroke-width':1.3,'stroke-dasharray':'8,5'},g);
  
  
  el = mk('rect',{x:L,y:T,width:R-L,height:B-T,fill:'none',stroke:'#555','stroke-width':1.2},g);
  
  
  el = mk('text',{x:466,y:2693,'font-size':22,'text-anchor':'middle',fill:'#000'},g);
  
  
  (function(t){ const a=document.createElementNS(NS,'tspan');a.textContent='Log';t.appendChild(a);
    const b=document.createElementNS(NS,'tspan');b.textContent='2';b.setAttribute('dy',6);b.setAttribute('font-size',15);t.appendChild(b);
    const c=document.createElementNS(NS,'tspan');c.textContent='(Fold Change)';c.setAttribute('dy',-6);t.appendChild(c);})(el);
  el = mk('text',{x:0,y:0,'font-size':22,'text-anchor':'middle',fill:'#000',transform:'translate(114 2366) rotate(-90)'},g);
  
  
  (function(t){ const a=document.createElementNS(NS,'tspan');a.textContent='− Log';t.appendChild(a);
    const b=document.createElementNS(NS,'tspan');b.textContent='10';b.setAttribute('dy',6);b.setAttribute('font-size',15);t.appendChild(b);
    const c=document.createElementNS(NS,'tspan');c.textContent='(P-value)';c.setAttribute('dy',-6);t.appendChild(c);})(el);
  el = tx('Statistics',{x:812,y:2261,'font-size':21,fill:'#000'},g);
  
  
  [['Up: 109','#d70f0f',2288],['Down: 92','#137a13',2313],['Insignificant: 2182','#bebebe',2338]].forEach(d=>{
    el = mk('circle',{cx:824,cy:d[2],r:3.5,fill:d[1]},g);
    
    
    el = tx(d[0],{x:849,y:d[2]+8,'font-size':20,fill:'#000'},g);
    
    
  });
  el = tx('VIP',{x:812,y:2402,'font-size':21,fill:'#000'},g);
  
  
  [['0.5',3,2427],['1.0',4,2453],['1.5',5,2478]].forEach(d=>{
    el = mk('circle',{cx:824,cy:d[2],r:d[1],fill:'#222'},g);
    
    
    el = tx(d[0],{x:849,y:d[2]+8,'font-size':20,fill:'#000'},g);
    
    
  });
})();
</script>
</body></html>
